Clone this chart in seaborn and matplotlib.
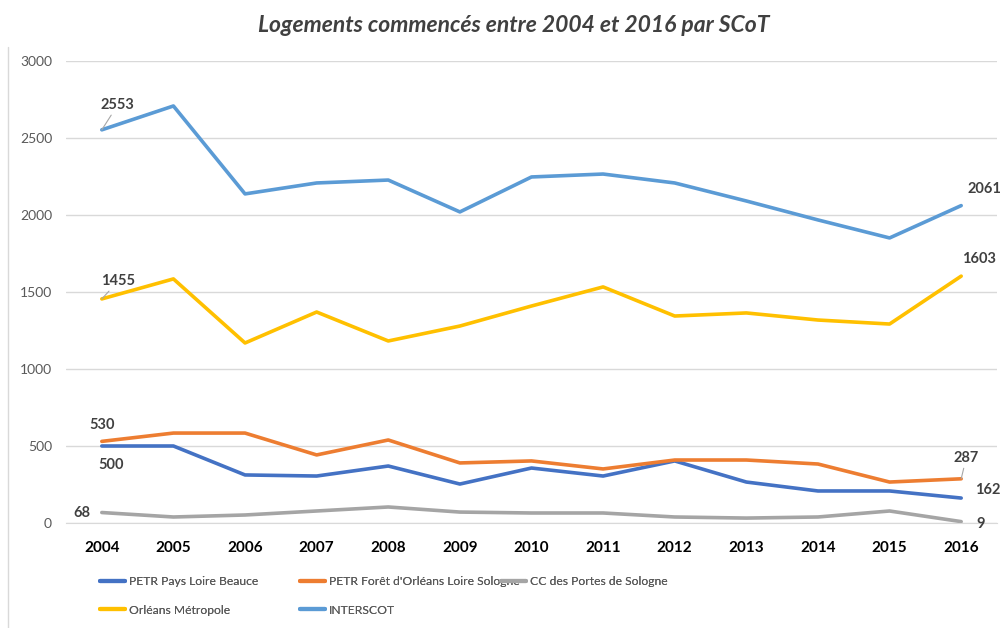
import matplotlib
matplotlib.use("Agg")
import matplotlib.pyplot as plt
from matplotlib.lines import Line2D
import seaborn as sns
import pandas as pd

years = [str(y) for y in range(2004, 2017)]
petr_loire_beauce = [500, 500, 312, 305, 370, 253, 357, 305, 403, 266, 208, 208, 162]
petr_foret = [530, 584, 584, 442, 539, 390, 403, 351, 409, 409, 383, 266, 287]
cc_portes_sologne = [68, 39, 52, 78, 104, 71, 65, 65, 39, 32, 39, 78, 9]
orleans_metropole = [1455, 1585, 1169, 1370, 1182, 1279, 1409, 1533, 1344, 1364, 1318, 1292, 1603]
interscot = [2553, 2708, 2137, 2208, 2227, 2020, 2247, 2266, 2208, 2091, 1968, 1851, 2061]

series = {
    "PETR Pays Loire Beauce": petr_loire_beauce,
    "PETR Forêt d'Orléans Loire Sologne": petr_foret,
    "CC des Portes de Sologne": cc_portes_sologne,
    "Orléans Métropole": orleans_metropole,
    "INTERSCOT": interscot,
}
colors = {
    "PETR Pays Loire Beauce": "#4472C4",
    "PETR Forêt d'Orléans Loire Sologne": "#ED7D31",
    "CC des Portes de Sologne": "#A5A5A5",
    "Orléans Métropole": "#FFC000",
    "INTERSCOT": "#5B9BD5",
}

rows = []
for name, vals in series.items():
    for i, v in enumerate(vals):
        rows.append({"idx": i, "value": v, "serie": name})
df = pd.DataFrame(rows)

sns.set_style("white")
plt.rcParams["font.family"] = ["Lato", "DejaVu Sans"]

fig = plt.figure(figsize=(10.04, 6.28), dpi=100)
ax = fig.add_axes([66 / 1004, 105 / 628, 931 / 1004, 462 / 628])

sns.lineplot(data=df, x="idx", y="value", hue="serie", palette=colors,
             linewidth=2.6, ax=ax, legend=False, sort=False)

ax.set_xlim(-0.5, 12.5)
ax.set_ylim(0, 3000)
ax.set_yticks(range(0, 3001, 500))
ax.set_xticks(range(13))
ax.set_xticklabels(years, fontsize=11, fontweight="bold", color="black")
ax.set_xticks([i + 0.5 for i in range(-1, 13)], minor=True)
ax.tick_params(axis="x", which="major", length=0, pad=13)
ax.tick_params(axis="x", which="minor", length=5, color="#D9D9D9", direction="out")
ax.tick_params(axis="y", length=0, pad=10, labelsize=10, labelcolor="#595959")
ax.grid(axis="y", color="#D9D9D9", linewidth=1)
ax.set_axisbelow(True)
for s in ["left", "right", "top"]:
    ax.spines[s].set_visible(False)
ax.spines["bottom"].set_color("#D9D9D9")
ax.set_xlabel("")
ax.set_ylabel("")

# data labels
lab = dict(fontsize=10.5, fontweight="bold", color="#404040",
           textcoords="offset points", ha="center", va="center")
lead = dict(arrowstyle="-", color="#A6A6A6", lw=0.8, shrinkA=0, shrinkB=0)
ax.annotate(str(interscot[0]), (0, interscot[0]), xytext=(11.5, 18), arrowprops=lead, **lab)
ax.annotate(str(orleans_metropole[0]), (0, orleans_metropole[0]), xytext=(12, 13), arrowprops=lead, **lab)
ax.annotate(str(petr_foret[0]), (0, petr_foret[0]), xytext=(0, 12), **lab)
ax.annotate(str(petr_loire_beauce[0]), (0, petr_loire_beauce[0]), xytext=(6.5, -14), **lab)
ax.annotate(str(cc_portes_sologne[0]), (0, cc_portes_sologne[0]), xytext=(-14, 0), **lab)
ax.annotate(str(interscot[-1]), (12, interscot[-1]), xytext=(16.5, 12), **lab)
ax.annotate(str(orleans_metropole[-1]), (12, orleans_metropole[-1]), xytext=(13, 12), **lab)
ax.annotate(str(petr_foret[-1]), (12, petr_foret[-1]), xytext=(3.6, 15), arrowprops=lead, **lab)
ax.annotate(str(petr_loire_beauce[-1]), (12, petr_loire_beauce[-1]), xytext=(19, 6), **lab)
ax.annotate(str(cc_portes_sologne[-1]), (12, cc_portes_sologne[-1]), xytext=(14, -2), **lab)

fig.text(514 / 1004, 1 - 25 / 628, "Logements commencés entre 2004 et 2016 par SCoT",
         ha="center", va="center", fontsize=16.5, fontweight="bold",
         style="italic", color="#404040")

# legend: three columns of fixed width
cols = [["PETR Pays Loire Beauce", "Orléans Métropole"],
        ["PETR Forêt d'Orléans Loire Sologne", "INTERSCOT"],
        ["CC des Portes de Sologne"]]
col_x = [100, 300, 501]
for names, x0 in zip(cols, col_x):
    handles = [Line2D([], [], color=colors[n], lw=3) for n in names]
    leg = fig.legend(handles, names, loc="upper left",
                     bbox_to_anchor=(x0 / 1004, 1 - 576 / 628),
                     frameon=False, fontsize=8.7, labelcolor="#595959",
                     handlelength=2.1, handletextpad=0.3, labelspacing=1.45,
                     borderaxespad=0, borderpad=0)
    fig.add_artist(leg)

fig.add_artist(Line2D([8 / 1004, 8 / 1004], [0, 1 - 47 / 628],
                      color="#D9D9D9", lw=1, transform=fig.transFigure))

fig.savefig("out.png", dpi=100)
